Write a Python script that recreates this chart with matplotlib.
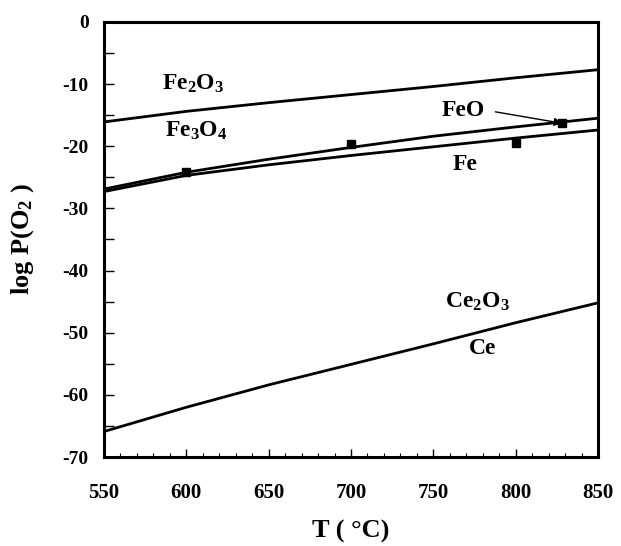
import matplotlib.pyplot as plt
import numpy as np
from matplotlib.ticker import MultipleLocator

plt.rcParams['font.family'] = ['Liberation Serif', 'DejaVu Serif']
plt.rcParams['font.weight'] = 'bold'
plt.rcParams['axes.unicode_minus'] = False
plt.rcParams['mathtext.fontset'] = 'custom'
plt.rcParams['mathtext.rm'] = 'Liberation Serif:bold'
plt.rcParams['mathtext.it'] = 'Liberation Serif:bold'
plt.rcParams['mathtext.bf'] = 'Liberation Serif:bold'

# temperatures (°C)
T = [550, 600, 650, 700, 750, 800, 850]
# equilibrium lines, log P(O2)
fe2o3_fe3o4 = [-16.1, -14.4, -13.0, -11.7, -10.4, -9.0, -7.7]
fe3o4_feo = [-26.9, -24.2, -22.1, -20.2, -18.4, -16.9, -15.5]
feo_fe = [-27.3, -24.7, -23.0, -21.5, -20.1, -18.7, -17.4]
ce2o3_ce = [-65.9, -62.0, -58.4, -55.1, -51.8, -48.4, -45.2]
# measured points
pts_T = [600, 700, 800, 828]
pts_logp = [-24.1, -19.6, -19.5, -16.3]

fig = plt.figure(figsize=(6.21, 5.46), dpi=100)
ax = fig.add_axes([0.1675, 0.163, 0.7955, 0.797])

for ys in (fe2o3_fe3o4, fe3o4_feo, feo_fe, ce2o3_ce):
    ax.plot(T, ys, color='black', lw=2.0)
ax.plot(pts_T, pts_logp, 's', color='black', ms=6)

ax.set_xlim(550, 850)
ax.set_ylim(-70, 0)
ax.xaxis.set_major_locator(MultipleLocator(50))
ax.xaxis.set_minor_locator(MultipleLocator(10))
ax.yaxis.set_major_locator(MultipleLocator(10))
ax.yaxis.set_minor_locator(MultipleLocator(5))
ax.tick_params(axis='both', which='both', direction='in', top=False, right=False)
ax.tick_params(axis='x', which='major', length=6, width=1, pad=19, labelsize=15)
ax.tick_params(axis='x', which='minor', length=3, width=0.8)
ax.tick_params(axis='y', which='major', length=7, width=1, pad=11, labelsize=14)
ax.tick_params(axis='y', which='minor', length=7, width=1)
for s in ax.spines.values():
    s.set_linewidth(2.2)

ax.set_xlabel('T ( °C)', fontsize=19, fontweight='bold', labelpad=12)
ax.set_ylabel(r'log P(O$_2$ )', fontsize=19, fontweight='bold', labelpad=19)

kw = dict(fontsize=17, fontweight='bold', ha='center', va='center')
ax.text(604, -9.9, r'Fe$_2$O$_3$', **kw)
ax.text(606, -17.6, r'Fe$_3$O$_4$', **kw)
ax.text(768, -14.2, 'FeO', **kw)
ax.text(769, -23.0, 'Fe', **kw)
ax.text(777, -45.1, r'Ce$_2$O$_3$', **kw)
ax.text(780, -52.5, 'Ce', **kw)
ax.annotate('', xy=(830, -16.4), xytext=(786, -14.4),
            arrowprops=dict(arrowstyle='-|>', color='black', lw=1, mutation_scale=12))

fig.savefig('out.png', dpi=100)
